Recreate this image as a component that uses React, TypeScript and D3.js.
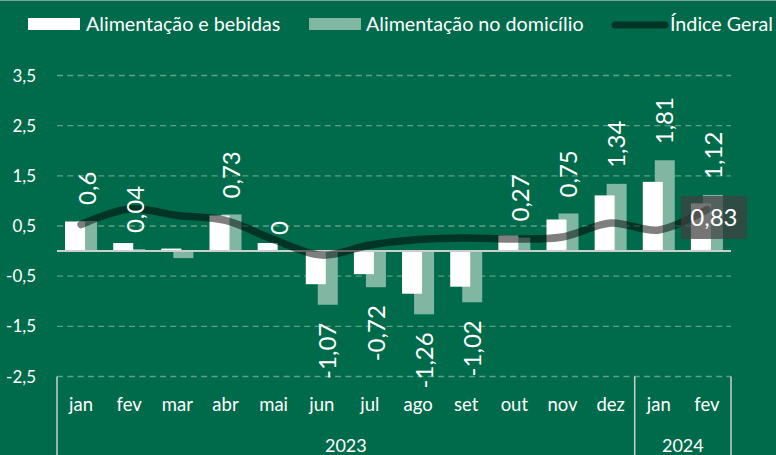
import React from "react";
import * as d3 from "d3";

const months = ["jan", "fev", "mar", "abr", "mai", "jun", "jul", "ago", "set", "out", "nov", "dez", "jan", "fev"];
const years = ["2023", "2024"];
const yearSpans = [12, 2];
const alimentacaoBebidas = [0.59, 0.16, 0.05, 0.71, 0.16, -0.66, -0.46, -0.85, -0.71, 0.31, 0.63, 1.11, 1.38, 0.95];
const alimentacaoDomicilio = [0.6, 0.04, -0.14, 0.73, 0.0, -1.07, -0.72, -1.26, -1.02, 0.27, 0.75, 1.34, 1.81, 1.12];
const domicilioLabels = ["0,6", "0,04", "", "0,73", "0", "-1,07", "-0,72", "-1,26", "-1,02", "0,27", "0,75", "1,34", "1,81", "1,12"];
const indiceGeral = [0.53, 0.84, 0.71, 0.61, 0.23, -0.08, 0.12, 0.23, 0.26, 0.24, 0.28, 0.56, 0.42, 0.83];
const yTicks = [3.5, 2.5, 1.5, 0.5, -0.5, -1.5, -2.5];
const lastLabel = "0,83";

const W = 776;
const H = 455;
const BG = "#006b4b";
const GREEN = "#80b6a2";
const FONT = "Lato, 'Noto Sans', sans-serif";

export default function App() {
  const idx = months.map((_, i) => String(i));
  const x = d3.scaleBand<string>().domain(idx).range([57, 731]).paddingInner(0).paddingOuter(0);
  const y = d3.scaleLinear().domain([-2.5, 3.5]).range([376.5, 75.5]);
  const bw = x.bandwidth();
  const cx = (i: number) => (x(String(i)) as number) + bw / 2;
  const barW = 20;
  const off = 6;

  const line = d3
    .line<number>()
    .x((_, i) => cx(i))
    .y((d) => y(d))
    .curve(d3.curveCatmullRom.alpha(0.5));

  const fmt = (v: number) => String(v).replace(".", ",");

  const sepX: number[] = [57];
  let acc = 0;
  yearSpans.forEach((s) => {
    acc += s;
    sepX.push((x(String(acc - 1)) as number) + bw);
  });

  const lastI = indiceGeral.length - 1;
  const lx = cx(lastI) + 7;
  const ly = y(indiceGeral[lastI]) + 8;

  return (
    <svg width={W} height={H} style={{ position: "absolute", left: 0, top: 0, fontFamily: FONT }}>
      <rect x={0} y={0} width={W} height={H} fill={BG} />
      <line x1={0} x2={W} y1={0.5} y2={0.5} stroke="#7aa897" strokeWidth={1} />

      {/* legend */}
      <g>
        <rect x={28} y={18} width={52} height={12} fill="#ffffff" />
        <text x={86} y={30.5} fill="#fff" fontSize={19.7}>Alimentação e bebidas</text>
        <rect x={309} y={18} width={52} height={12} fill={GREEN} />
        <text x={366} y={30.5} fill="#fff" fontSize={19.7}>Alimentação no domicílio</text>
        <line x1={615} x2={665} y1={25} y2={25} stroke="#000" strokeOpacity={0.5} strokeWidth={7} strokeLinecap="round" />
        <text x={670} y={30.5} fill="#fff" fontSize={19.7}>Índice Geral</text>
      </g>

      {/* gridlines */}
      {yTicks.map((t) => (
        <g key={t}>
          <line x1={57} x2={731} y1={y(t)} y2={y(t)} stroke="#5f9f86" strokeWidth={1.3} strokeDasharray="6,4.3" />
          <text x={36} y={y(t)} dy="0.36em" textAnchor="end" fill="#fff" fontSize={17}>
            {fmt(t)}
          </text>
        </g>
      ))}

      {/* bars */}
      {alimentacaoDomicilio.map((v, i) => (
        <rect key={"g" + i} x={cx(i) + off - barW / 2} y={Math.min(y(v), y(0))} width={barW} height={Math.abs(y(v) - y(0))} fill={GREEN} />
      ))}
      {alimentacaoBebidas.map((v, i) => (
        <rect key={"w" + i} x={cx(i) - off - barW / 2} y={Math.min(y(v), y(0))} width={barW} height={Math.abs(y(v) - y(0))} fill="#fff" />
      ))}

      {/* zero line */}
      <line x1={57} x2={731} y1={y(0)} y2={y(0)} stroke="#c9cfcc" strokeWidth={2} />

      {/* line */}
      <path d={line(indiceGeral) as string} fill="none" stroke="#000" strokeOpacity={0.5} strokeWidth={7.5} strokeLinecap="round" strokeLinejoin="round" />

      {/* rotated labels */}
      {alimentacaoDomicilio.map((v, i) => {
        const lab = domicilioLabels[i];
        if (!lab) return null;
        const px = cx(i) + off;
        const neg = v < 0;
        const py = neg ? y(v) + 18 : y(v) - 16;
        return (
          <text
            key={"l" + i}
            transform={`translate(${px},${py}) rotate(-90)`}
            textAnchor={neg ? "end" : "start"}
            dy="0.36em"
            fill="#fff"
            fontSize={24}
          >
            {lab}
          </text>
        );
      })}

      {/* last point label */}
      <rect x={lx - 33} y={ly - 21.5} width={66} height={43} fill="#404040" fillOpacity={0.72} />
      <text x={lx} y={ly} dy="0.36em" textAnchor="middle" fill="#fff" fontSize={24}>
        {lastLabel}
      </text>

      {/* category axis */}
      {months.map((m, i) => (
        <text key={"m" + i} x={cx(i)} y={411} textAnchor="middle" fill="#fff" fontSize={18.5}>
          {m}
        </text>
      ))}
      {sepX.map((sx, i) => (
        <line key={"s" + i} x1={sx} x2={sx} y1={376.5} y2={H} stroke="#c9cfcc" strokeWidth={1.5} />
      ))}
      {years.map((yr, i) => (
        <text key={yr} x={(sepX[i] + sepX[i + 1]) / 2} y={452} textAnchor="middle" fill="#fff" fontSize={18}>
          {yr}
        </text>
      ))}
    </svg>
  );
}
